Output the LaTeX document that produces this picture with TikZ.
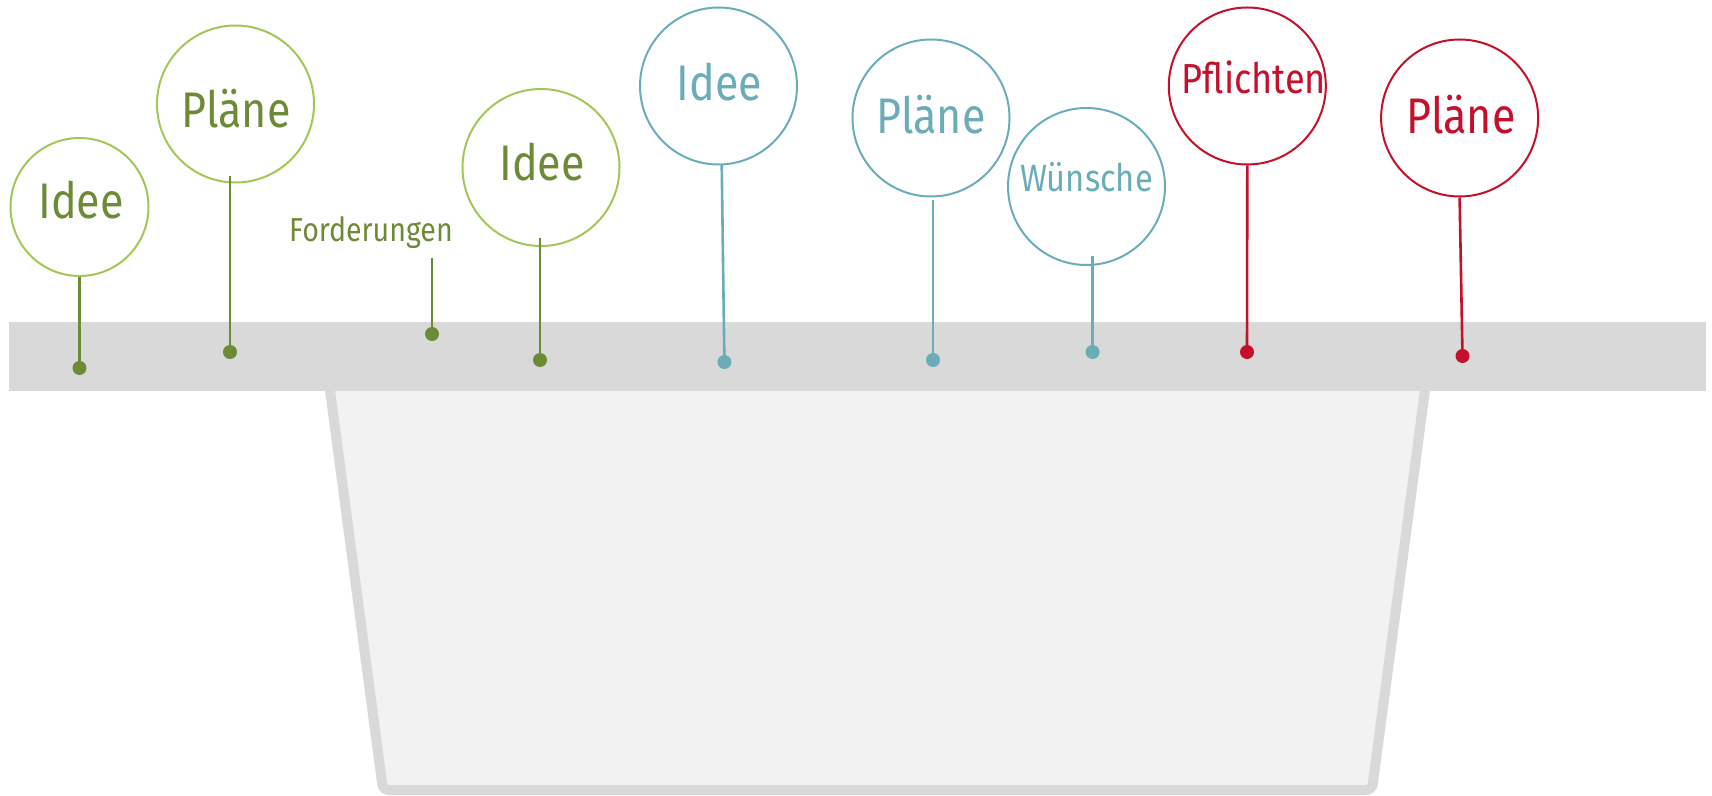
\documentclass[tikz,border=0pt]{standalone}
\usepackage{fontspec}
\setmainfont{Fira Sans}[FakeStretch=0.86]
\definecolor{gcirc}{HTML}{A3C659}
\definecolor{gdark}{HTML}{6D8A37}
\definecolor{tealc}{HTML}{6AADB8}
\definecolor{redc}{HTML}{C4102A}
\definecolor{barc}{HTML}{D9D9D9}
\definecolor{bucketc}{HTML}{F2F2F2}
\tikzset{
  bubble/.style={circle, draw, line width=1pt, minimum size=78.5pt, inner sep=0pt},
  pindot/.style={circle, fill, minimum size=7pt, inner sep=0pt},
  stemline/.style={line width=1.3pt},
  big/.style={font=\fontsize{25}{30}\selectfont, inner sep=0pt},
  mid/.style={font=\fontsize{19}{23}\selectfont, inner sep=0pt},
  small/.style={font=\fontsize{16.6}{20}\selectfont, inner sep=0pt},
}
\begin{document}
\begin{tikzpicture}[x=0.5pt, y=-0.5pt]
\useasboundingbox (0,0) rectangle (1712,796);
% bucket
\draw[fill=bucketc, draw=barc, line width=5pt, rounded corners=3pt]
  (326,360) -- (383,790) -- (1372,790) -- (1429,360) ;
% bar
\fill[barc] (9,322) rectangle (1706,391);

% green group
\node[bubble, draw=gcirc, minimum size=69pt] (c1) at (79.5,207) {};
\node[big, text=gdark] (t1) at (81,200) {Idee};
\node[pindot, gdark] (d1) at (79.5,368) {};
\draw[stemline, gdark] (c1.south) -- (d1.center);

\node[bubble, draw=gcirc] (c2) at (235.5,104) {};
\node[big, text=gdark] (t2) at (236,109) {Pläne};
\coordinate (s2) at (230,176);
\node[pindot, gdark] (d2) at (230,352) {};
\draw[stemline, gdark] (s2) -- (d2.center);

\node[small, text=gdark] (t3) at (371,233) {Forderungen};
\coordinate (s3) at (432,258);
\node[pindot, gdark] (d3) at (432,334) {};
\draw[stemline, gdark] (s3) -- (d3.center);

\node[bubble, draw=gcirc] (c4) at (541,167.5) {};
\node[big, text=gdark] (t4) at (542,162) {Idee};
\coordinate (s4) at (540,238);
\node[pindot, gdark] (d4) at (540,360) {};
\draw[stemline, gdark] (s4) -- (d4.center);

% teal group
\node[bubble, draw=tealc] (c5) at (718.5,86) {};
\node[big, text=tealc] (t5) at (719.5,82) {Idee};
\coordinate (s5) at (721.7,164);
\node[pindot, tealc] (d5) at (724.4,362) {};
\draw[stemline, tealc] (s5) -- (d5.center);

\node[bubble, draw=tealc] (c6) at (931,118) {};
\node[big, text=tealc] (t6) at (931,115) {Pläne};
\coordinate (s6) at (933,200);
\node[pindot, tealc] (d6) at (933,360) {};
\draw[stemline, tealc] (s6) -- (d6.center);

\node[bubble, draw=tealc] (c7) at (1086.5,186.5) {};
\node[mid, text=tealc] (t7) at (1086.5,177) {Wünsche};
\coordinate (s7) at (1092.5,256);
\node[pindot, tealc] (d7) at (1092.5,352) {};
\draw[stemline, tealc] (s7) -- (d7.center);

% red group
\node[bubble, draw=redc] (c8) at (1247.3,86) {};
\node[mid, text=redc, font=\fontsize{21}{25}\selectfont] (t8) at (1254,77) {Pflichten};
\node[pindot, redc] (d8) at (1247,352) {};
\draw[stemline, redc] (c8.south) -- (d8.center);

\node[bubble, draw=redc] (c9) at (1459.6,118) {};
\node[big, text=redc] (t9) at (1461,114.5) {Pläne};
\node[pindot, redc] (d9) at (1462.5,356) {};
\draw[stemline, redc] (c9.south) -- (d9.center);
\end{tikzpicture}
\end{document}
